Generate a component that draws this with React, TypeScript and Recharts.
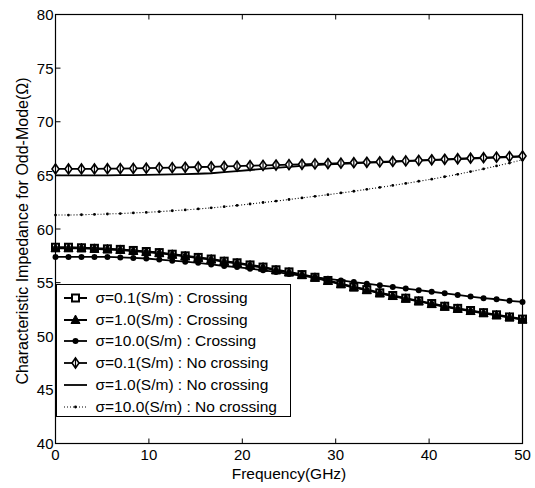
import * as R from "recharts";
import { LineChart, Line, XAxis, YAxis, Legend, Label } from "recharts";

const freq = [
  0, 1.39, 2.78, 4.17, 5.56, 6.94, 8.33, 9.72, 11.11, 12.5, 13.89, 15.28, 16.67,
  18.06, 19.44, 20.83, 22.22, 23.61, 25, 26.39, 27.78, 29.17, 30.56, 31.94, 33.33,
  34.72, 36.11, 37.5, 38.89, 40.28, 41.67, 43.06, 44.44, 45.83, 47.22, 48.61, 50,
];

// crossing
const s01Cross = [
  58.3, 58.3, 58.25, 58.2, 58.15, 58.1, 58.0, 57.9, 57.8, 57.65, 57.5, 57.35, 57.2,
  57.0, 56.85, 56.65, 56.45, 56.2, 56.0, 55.75, 55.5, 55.2, 54.9, 54.6, 54.35,
  54.05, 53.8, 53.55, 53.3, 53.05, 52.8, 52.6, 52.4, 52.2, 52.0, 51.8, 51.6,
];
const s1Cross = [
  58.2, 58.2, 58.2, 58.15, 58.1, 58.05, 57.95, 57.85, 57.75, 57.6, 57.45, 57.3, 57.15,
  56.95, 56.8, 56.6, 56.4, 56.15, 55.95, 55.7, 55.45, 55.15, 54.85, 54.55, 54.3,
  54.0, 53.75, 53.5, 53.25, 53.0, 52.75, 52.55, 52.35, 52.15, 51.95, 51.75, 51.55,
];
const s10Cross = [
  57.4, 57.4, 57.4, 57.4, 57.4, 57.35, 57.3, 57.25, 57.15, 57.05, 56.95, 56.85, 56.7,
  56.55, 56.45, 56.3, 56.15, 56.0, 55.8, 55.65, 55.5, 55.35, 55.2, 55.05, 54.9,
  54.75, 54.6, 54.45, 54.3, 54.15, 54.0, 53.85, 53.7, 53.55, 53.45, 53.3, 53.2,
];

// no crossing
const s01NoCross = [
  65.6, 65.6, 65.6, 65.6, 65.62, 65.63, 65.65, 65.67, 65.7, 65.72, 65.75, 65.78, 65.8,
  65.83, 65.86, 65.9, 65.93, 65.96, 66.0, 66.03, 66.07, 66.1, 66.14, 66.18, 66.22,
  66.26, 66.3, 66.35, 66.4, 66.45, 66.5, 66.55, 66.6, 66.65, 66.7, 66.75, 66.8,
];
const s1NoCross = [
  65.0, 65.0, 65.0, 65.0, 65.0, 65.02, 65.03, 65.05, 65.07, 65.1, 65.12, 65.15, 65.2,
  65.3, 65.4, 65.5, 65.6, 65.7, 65.8, 65.88, 65.95, 66.02, 66.08, 66.13, 66.18,
  66.22, 66.27, 66.32, 66.37, 66.42, 66.47, 66.52, 66.57, 66.62, 66.66, 66.7, 66.74,
];
const s10NoCross = [
  61.3, 61.3, 61.33, 61.36, 61.4, 61.44, 61.5, 61.55, 61.62, 61.7, 61.78, 61.87, 61.97,
  62.08, 62.2, 62.33, 62.47, 62.6, 62.75, 62.9, 63.05, 63.2, 63.36, 63.52, 63.7,
  63.88, 64.06, 64.25, 64.45, 64.65, 64.87, 65.1, 65.35, 65.6, 65.88, 66.15, 66.45,
];

const xTicks = [0, 10, 20, 30, 40, 50];
const yTicks = [40, 45, 50, 55, 60, 65, 70, 75, 80];

const legendLabels = [
  "σ=0.1(S/m) : Crossing",
  "σ=1.0(S/m) : Crossing",
  "σ=10.0(S/m) : Crossing",
  "σ=0.1(S/m) : No crossing",
  "σ=1.0(S/m) : No crossing",
  "σ=10.0(S/m) : No crossing",
];

const data = freq.map((f, i) => ({
  f,
  a: s01Cross[i],
  b: s1Cross[i],
  c: s10Cross[i],
  d: s01NoCross[i],
  e: s1NoCross[i],
  g: s10NoCross[i],
}));

const FONT = "'Liberation Sans', Arial, sans-serif";

// marker shapes
const Square = ({ cx, cy }: any) => (
  <rect x={cx - 3.5} y={cy - 3.5} width={7} height={7} fill="#fff" stroke="#000" strokeWidth={2} />
);
const Triangle = ({ cx, cy }: any) => (
  <path d={`M${cx},${cy - 5} L${cx + 4.5},${cy + 3.5} L${cx - 4.5},${cy + 3.5} Z`} fill="#000" stroke="#000" />
);
const Dot = ({ cx, cy }: any) => <circle cx={cx} cy={cy} r={3} fill="#000" />;
const Diamond = ({ cx, cy }: any) => (
  <g>
    <path d={`M${cx},${cy - 5} L${cx + 3.5},${cy} L${cx},${cy + 5} L${cx - 3.5},${cy} Z`} fill="#fff" stroke="#000" strokeWidth={1.6} />
    <line x1={cx} x2={cx} y1={cy - 5} y2={cy + 5} stroke="#000" strokeWidth={1.2} />
  </g>
);
const SmallDot = ({ cx, cy }: any) => <circle cx={cx} cy={cy} r={1.4} fill="#000" />;

const markers = [Square, Triangle, Dot, Diamond, null, SmallDot];
const dashes = [undefined, undefined, undefined, undefined, undefined, "1 2"];
const widths = [2, 2, 1.8, 1.8, 1.8, 1.1];

const dotFn = (M: any) => (p: any) => {
  if (p.cx == null || p.cy == null) return <g key={p.index} />;
  return <M key={p.index} cx={p.cx} cy={p.cy} />;
};

const LeftTick = ({ x, y, payload }: any) => (
  <g>
    <line x1={x} x2={x + 5} y1={y} y2={y} stroke="#000" />
    <text x={x - 2} y={y} dy={5.5} textAnchor="end" fontSize={15} fontFamily={FONT} fill="#000">
      {payload.value}
    </text>
  </g>
);
const RightTick = ({ x, y }: any) => <line x1={x} x2={x - 5} y1={y} y2={y} stroke="#000" />;
const BottomTick = ({ x, y, payload }: any) => (
  <g>
    <line x1={x} x2={x} y1={y} y2={y - 5} stroke="#000" />
    <text x={x} y={y} dy={16} textAnchor="middle" fontSize={15} fontFamily={FONT} fill="#000">
      {payload.value}
    </text>
  </g>
);
const TopTick = ({ x, y }: any) => <line x1={x} x2={x} y1={y} y2={y + 5} stroke="#000" />;

// box round the plot area
const Frame = () => {
  const area: any = (R as any).usePlotArea ? (R as any).usePlotArea() : null;
  if (!area) return null;
  return (
    <rect
      x={area.x}
      y={area.y}
      width={area.width}
      height={area.height}
      fill="none"
      stroke="#000"
      strokeWidth={1.2}
    />
  );
};

const XTitle = () => (
  <text x={289} y={479} textAnchor="middle" fontSize={15.5} fontFamily={FONT} fill="#000">
    Frequency(GHz)
  </text>
);
const YTitle = () => (
  <text
    transform="translate(28,231) rotate(-90)"
    textAnchor="middle"
    fontSize={16}
    fontFamily={FONT}
    fill="#000"
  >
    Characteristic Impedance for Odd-Mode(Ω)
  </text>
);

const renderLegend = () => (
  <div
    style={{
      width: 235,
      height: 133,
      border: "1px solid #000",
      background: "#fff",
      boxSizing: "border-box",
      fontFamily: FONT,
      fontSize: 15.5,
      paddingTop: 2,
    }}
  >
    {legendLabels.map((lab, i) => {
      const M = markers[i];
      return (
        <div key={lab} style={{ display: "flex", alignItems: "center", height: 21.8 }}>
          <svg width={39} height={14} style={{ flex: "none" }}>
            <line
              x1={7}
              x2={30}
              y1={7}
              y2={7}
              stroke="#000"
              strokeWidth={widths[i]}
              strokeDasharray={dashes[i]}
            />
            {M && <M cx={18.5} cy={7} />}
          </svg>
          <span style={{ whiteSpace: "nowrap", color: "#000" }}>{lab}</span>
        </div>
      );
    })}
  </div>
);

const keys = ["a", "b", "c", "d", "e", "g"];

export default function App() {
  return (
    <div style={{ position: "absolute", left: 0, top: 0, background: "#fff" }}>
      <LineChart
        width={535}
        height={488}
        data={data}
        margin={{ top: 0, right: 7.5, left: 0, bottom: 8 }}
      >
        <XAxis
          dataKey="f"
          type="number"
          domain={[0, 50]}
          ticks={xTicks}
          height={36.5}
          tickSize={0}
          tickMargin={0}
          tick={<BottomTick />}
          tickLine={false}
          axisLine={{ stroke: "#000" }}
          interval={0}
        >
          <Label content={<XTitle />} />
        </XAxis>
        <XAxis
          xAxisId="top"
          orientation="top"
          dataKey="f"
          type="number"
          domain={[0, 50]}
          ticks={xTicks}
          height={14.5}
          tickSize={0}
          tickMargin={0}
          tick={<TopTick />}
          tickLine={false}
          axisLine={{ stroke: "#000" }}
          interval={0}
        />
        <YAxis
          type="number"
          domain={[40, 80]}
          ticks={yTicks}
          width={55.5}
          tickSize={0}
          tickMargin={0}
          tick={<LeftTick />}
          tickLine={false}
          axisLine={{ stroke: "#000" }}
          interval={0}
        >
          <Label content={<YTitle />} />
        </YAxis>
        <YAxis
          yAxisId="r"
          orientation="right"
          type="number"
          domain={[40, 80]}
          ticks={yTicks}
          width={5}
          tickSize={0}
          tickMargin={0}
          tick={<RightTick />}
          tickLine={false}
          axisLine={{ stroke: "#000" }}
          interval={0}
        />
        <Frame />
        {keys.map((k, i) => (
          <Line
            key={k}
            dataKey={k}
            type="linear"
            stroke="#000"
            strokeWidth={widths[i]}
            strokeDasharray={dashes[i]}
            dot={markers[i] ? dotFn(markers[i]) : false}
            activeDot={false}
            isAnimationActive={false}
            legendType="none"
          />
        ))}
        <Legend
          layout="vertical"
          align="center"
          verticalAlign="middle"
          content={renderLegend}
          wrapperStyle={{ position: "absolute", left: 55.5, top: 284, width: 235, height: 133 }}
        />
      </LineChart>
    </div>
  );
}
